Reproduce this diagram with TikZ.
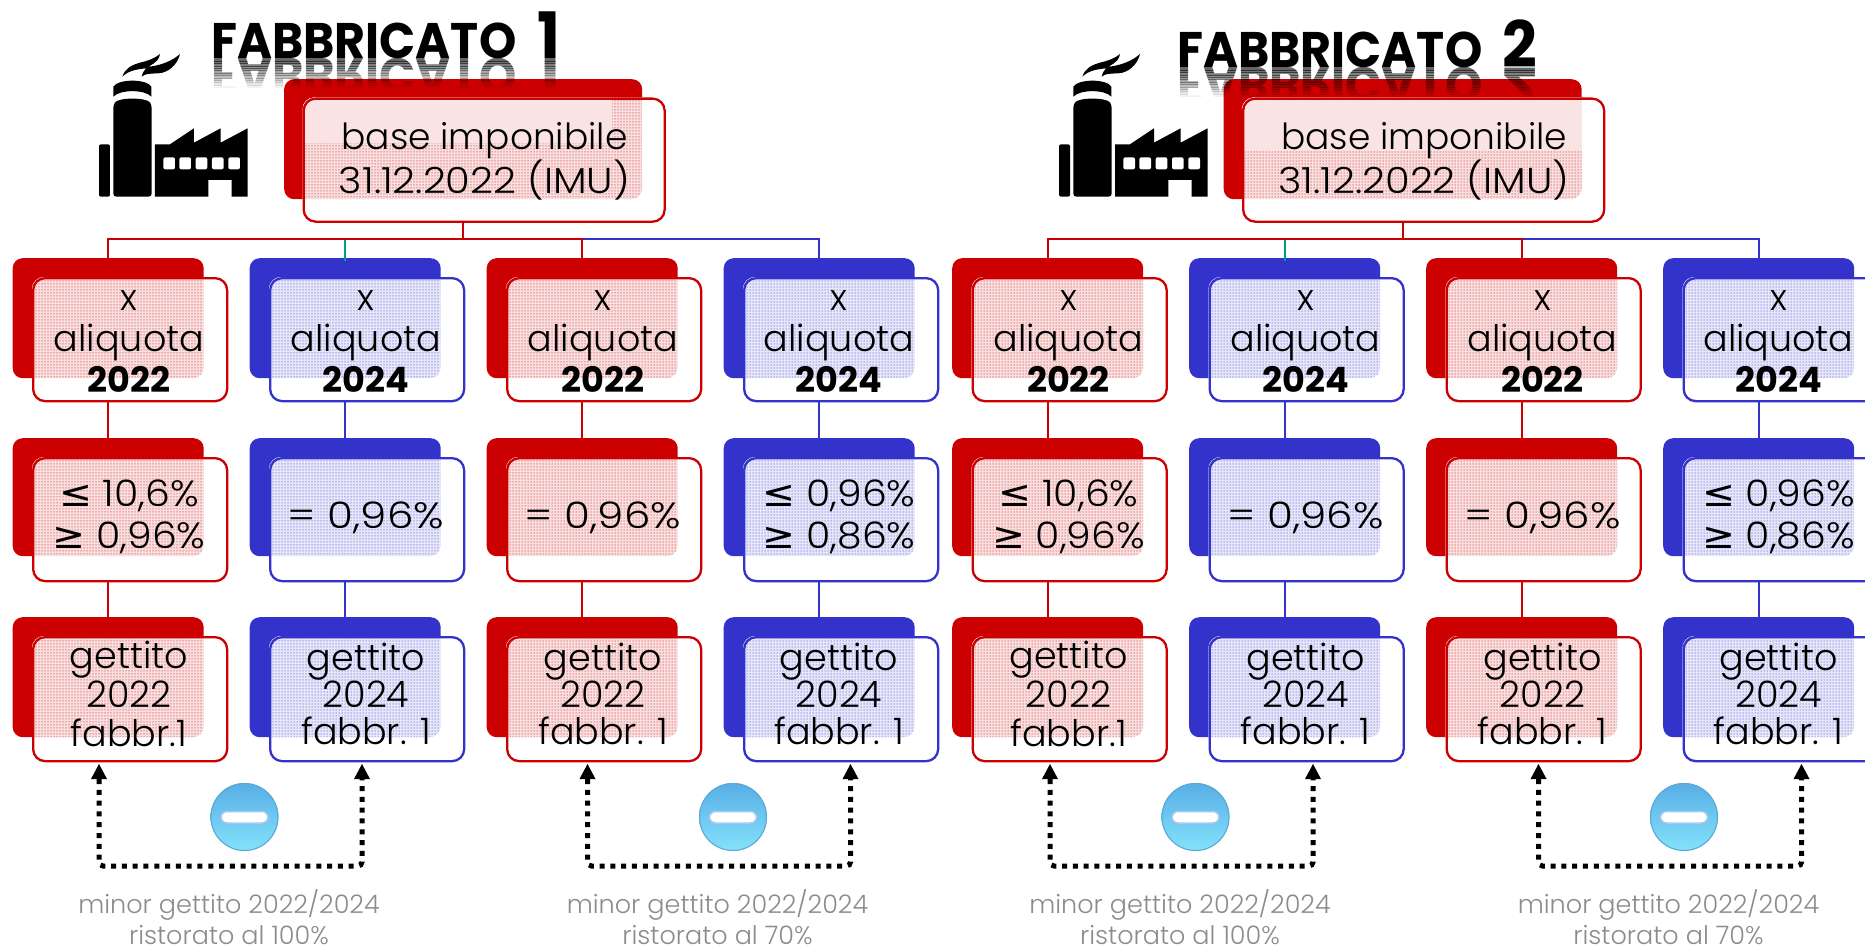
\documentclass[tikz,border=0pt]{standalone}
\usepackage{fontspec}
\setmainfont{Poppins Light}[BoldFont=Poppins Bold]
\newfontfamily\symf{DejaVu Sans}
\usetikzlibrary{patterns,patterns.meta,arrows.meta,calc}
\definecolor{myred}{HTML}{CC0000}
\definecolor{myblue}{HTML}{3333CC}
\definecolor{myteal}{HTML}{00A07A}
\definecolor{mygrey}{HTML}{8C8C8C}
\definecolor{balltop}{HTML}{58AEE6}
\definecolor{ballbot}{HTML}{84E2FB}
\definecolor{ballrim}{HTML}{5BA6D2}
\definecolor{pillrim}{HTML}{A8C8F0}
\tikzset{
  backbox/.style={fill=#1, draw=none, rounded corners=10pt, inner sep=0pt, anchor=north west},
  frontline/.style={draw=#1, line width=2.3pt, rounded corners=12pt},
  cell/.style={font=\fontsize{36.5}{41}\selectfont, align=center, inner sep=0pt, text=black},
  wide/.style={xscale=1.15, transform shape},
  widetwo/.style={xscale=1.08, transform shape},
  wire/.style={line width=2.2pt, draw=#1},
  ring/.style={line width=5pt, dash pattern=on 5pt off 5.8pt, rounded corners=4pt, {Triangle[length=15pt,width=16pt,line width=0pt]}-{Triangle[length=15pt,width=16pt,line width=0pt]}},
  note/.style={font=\fontsize{25.5}{31}\selectfont, align=center, text=mygrey, inner sep=0pt},
  titletxt/.style={font=\fontsize{50}{50}\selectfont\bfseries, inner sep=0pt, anchor=base west, xscale=.95, transform shape},
}
\newcommand{\yearbf}[1]{{\fontsize{35}{41}\selectfont\bfseries #1}}
\newcommand{\factory}{%
  \fill[rounded corners=2pt] (27,470) -- (60,470) -- (60,313) -- (27,313) -- cycle;
  \fill[rounded corners=3pt] (70,470) -- (70,195) .. controls (85,172) and (170,172) .. (185,195) -- (185,470) -- cycle;
  \fill (70,140) .. controls (85,116) and (170,116) .. (184,140) -- (184,170) .. controls (165,148) and (90,148) .. (70,170) -- cycle;
  \fill (97,110) .. controls (105,85) and (125,75) .. (150,68) .. controls (175,62) and (195,55) .. (210,42) .. controls (208,58) and (200,66) .. (175,80) .. controls (205,78) and (245,65) .. (270,42) .. controls (262,75) and (235,98) .. (205,100) .. controls (185,101) and (165,100) .. (155,110) .. controls (158,98) and (162,92) .. (168,85) .. controls (140,88) and (115,92) .. (97,110) -- cycle;
  \fill (195,470) -- (195,313) -- (240,313) -- (312,265) -- (312,308) -- (392,265) -- (392,308) -- (473,265) -- (473,470) -- (425,470) -- (425,420) -- (355,420) -- (355,470) -- cycle;
  \foreach \wx in {220,268,317,366,415}{\fill[white,rounded corners=2pt] (\wx,352) rectangle ++(35,36);}
}
\begin{document}
\begin{tikzpicture}[x=1pt,y=-1pt]
\useasboundingbox (0,0) rectangle (1865,947);
\clip (0,0) rectangle (1865,947);

% ---------- factories
\begin{scope}[shift={(90,40)},x=.3333pt,y=-.3333pt]\factory\end{scope}
\begin{scope}[shift={(1050,40)},x=.3333pt,y=-.3333pt]\factory\end{scope}

% ---------- titles
\node[titletxt] (t1) at (211,59) {FABBRICATO\hspace{12pt} {\fontsize{64}{64}\selectfont 1}};
\node[titletxt] (t2) at (1177,68) {FABBRICATO\hspace{11pt} {\fontsize{64}{64}\selectfont 2}};

% ---------- base boxes
\foreach \pre/\off/\sr/\sb in {a/0/612/143,c/939.5/642/151}{
  \begin{scope}[shift={(\off,0)}]
  \node[backbox=myred, minimum width=358pt, minimum height=120pt] (\pre base b) at (284,79) {};
  \path[fill=white, rounded corners=12pt] (302.5,97.5) rectangle ++(361,123);
  \begin{scope}
    \clip[rounded corners=10pt] (284,79) rectangle ++(358,120);
    \clip[rounded corners=12pt] (302.5,97.5) rectangle ++(361,123);
    \path[fill=myred!12] (302.5,97.5) rectangle ++(361,123);
    \path[pattern={Dots[distance=3pt,radius=.75pt]}, pattern color=myred!55] (302.5,97.5) rectangle ++(361,123);
    \path[fill=white] (302.5,97.5) rectangle (\sr,\sb);
    \path[fill=myred!11] (302.5,97.5) rectangle (\sr,\sb);
  \end{scope}
  \node[frontline=myred, minimum width=361pt, minimum height=123pt, inner sep=0pt, anchor=north west] (\pre base f) at (302.5,97.5) {};
  \node[cell, font=\fontsize{36}{42}\selectfont] (\pre base t) at (484.5,161) {base imponibile\\\scalebox{1.11}[1]{31.12.2022 (IMU)}};
  \end{scope}
}

% ---------- reflections of the titles, fading out downwards
\foreach \pre/\tx/\ty/\num/\gap in {m/211/59/1/12,n/1177/68/2/11}{
  \foreach \i in {0,...,11}{
    \pgfmathsetmacro{\op}{.6-.05*\i}
    \begin{scope}
      \clip (\tx-5,\ty+2.4*\i) rectangle (\tx+370,\ty+2.4*\i+2.4);
      \node[titletxt, yscale=-1, opacity=\op] (\pre s\i) at (\tx,\ty) {FABBRICATO\hspace{\gap pt} {\fontsize{64}{64}\selectfont \num}};
    \end{scope}
  }
}

% ---------- cards
\foreach \pre/\off in {a/0,c/939.5}{
\begin{scope}[shift={(\off,0)}]
  \foreach \col/\lx/\tx/\clr/\yr in {1/12.5/129/myred/2022,2/249.5/366/myblue/2024,3/486.5/603/myred/2022,4/723.5/839/myblue/2024}{
    \node[backbox=\clr, minimum width=191pt, minimum height=120pt] (\pre\col r1b) at (\lx,258) {};
    \node[backbox=\clr, minimum width=191pt, minimum height=118pt] (\pre\col r2b) at (\lx,438) {};
    \node[backbox=\clr, minimum width=191pt, minimum height=120pt] (\pre\col r3b) at (\lx,617) {};
    \foreach \rw/\ry/\rh/\fh in {1/258/120/123,2/438/118/123,3/617/120/124}{
      \path[fill=white, rounded corners=12pt] (\lx+19.5,\ry+19) rectangle ++(194,\fh);
      \begin{scope}
        \clip[rounded corners=10pt] (\lx,\ry) rectangle ++(191,\rh);
        \path[fill=\clr!12,rounded corners=12pt] (\lx+19.5,\ry+19) rectangle ++(194,\fh);
        \path[pattern={Dots[distance=3pt,radius=.75pt]}, pattern color=\clr!55,rounded corners=12pt] (\lx+19.5,\ry+19) rectangle ++(194,\fh);
      \end{scope}
      \node[frontline=\clr, minimum width=194pt, minimum height=\fh pt, inner sep=0pt, anchor=north west] (\pre\col r\rw f) at (\lx+19.5,\ry+19) {};
    }
    \node[cell] (\pre\col r1t) at (\tx,342) {x\\aliquota\\\yearbf{\yr}};
    \draw[wire=\clr] (\pre\col r1b.south |- \pre\col r1f.south) -- ([yshift=-3pt]\pre\col r2b.north);
    \draw[wire=\clr] (\pre\col r2b.south |- \pre\col r2f.south) -- ([yshift=-3pt]\pre\col r3b.north);
  }
  \node[cell, widetwo, font=\fontsize{36.5}{42}\selectfont] (\pre1r2t) at (129,517) {{\symf ≤} 10,6\%\\{\symf ≥} 0,96\%};
  \node[cell, wide] (\pre2r2t) at (366,518) {= 0,96\%};
  \node[cell, wide] (\pre3r2t) at (603,518) {= 0,96\%};
  \node[cell, widetwo, font=\fontsize{36.5}{42}\selectfont] (\pre4r2t) at (839,517) {{\symf ≤} 0,96\%\\{\symf ≥} 0,86\%};
  \node[cell, font=\fontsize{36.5}{39}\selectfont] (\pre1r3t) at (129,694) {gettito\\2022\\fabbr.1};
  \node[cell, font=\fontsize{36.5}{37}\selectfont] (\pre2r3t) at (366,694) {gettito\\2024\\fabbr. 1};
  \node[cell, font=\fontsize{36.5}{37}\selectfont] (\pre3r3t) at (603,694) {gettito\\2022\\fabbr. 1};
  \node[cell, font=\fontsize{36.5}{37}\selectfont] (\pre4r3t) at (839,694) {gettito\\2024\\fabbr. 1};
  % tree
  \coordinate (\pre bus) at (0,239);
  \draw[wire=myteal] (\pre bus -| \pre2r1b.north) -- ([yshift=-3pt]\pre2r1b.north);
  \draw[wire=myblue] (\pre bus -| \pre3r1b.north) -| ([yshift=-3pt]\pre4r1b.north);
  \draw[wire=myred] (\pre bus -| \pre base b.south) -| ([yshift=-3pt]\pre3r1b.north);
  \draw[wire=myred] (\pre base b.south |- \pre base f.south) -- (\pre bus -| \pre base b.south) -| ([yshift=-3pt]\pre1r1b.north);
\end{scope}
}

% ---------- arrows, minus signs, notes
\foreach \pre/\off/\pc in {p/0/100,q/488.5/70,r/951/100,s/1439.5/70}{
\begin{scope}[shift={(\off,0)}]
  \coordinate (\pre L) at (99,764);
  \coordinate (\pre R) at (362,764);
  \coordinate (\pre B) at (230,866);
  \draw[ring] (\pre L) -- (\pre L |- \pre B) -- (\pre R |- \pre B) -- (\pre R);
  \shade[top color=balltop, bottom color=ballbot] (244.5,817) circle (34);
  \draw[ballrim, line width=1pt] (244.5,817) circle (33.5);
  \fill[white, draw=pillrim, line width=1.5pt, rounded corners=6pt] (221,811.5) rectangle (268,823);
  \node[note] (\pre n) at (229,917) {minor gettito 2022/2024\\ristorato al \pc\%};
\end{scope}
}
\end{tikzpicture}
\end{document}
